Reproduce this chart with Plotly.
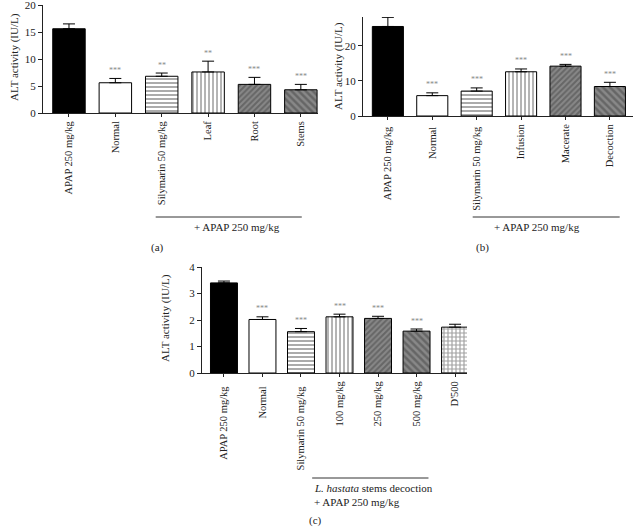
import plotly.graph_objects as go

# ---------------- data ----------------
cats_a = ["APAP 250 mg/kg", "Normal", "Silymarin 50 mg/kg", "Leaf", "Root", "Stems"]
vals_a = [15.6, 5.6, 6.8, 7.6, 5.3, 4.3]
errs_a = [0.9, 0.8, 0.6, 2.0, 1.3, 1.0]
sig_a = ["", "***", "**", "**", "***", "***"]

cats_b = ["APAP 250 mg/kg ", "Normal ", "Silymarin 50 mg/kg ", "Infusion", "Macerate", "Decoction"]
vals_b = [25.5, 5.8, 7.1, 12.6, 14.2, 8.4]
errs_b = [2.6, 0.8, 0.9, 0.8, 0.5, 1.2]
sig_b = ["", "***", "***", "***", "***", "***"]

cats_c = ["APAP 250 mg/kg  ", "Normal  ", "Silymarin 50 mg/kg  ", "100 mg/kg", "250 mg/kg", "500 mg/kg", "D'500"]
vals_c = [3.4, 2.02, 1.56, 2.12, 2.06, 1.58, 1.73]
errs_c = [0.07, 0.10, 0.12, 0.10, 0.08, 0.08, 0.11]
sig_c = ["", "***", "***", "***", "***", "***", ""]

ytick_a = [0, 5, 10, 15, 20]
ytick_b = [0, 10, 20]
ytick_c = [0, 1, 2, 3, 4]

FONT = "Liberation Serif"
FS = 11
XFS = 10.5

# pattern styles per bar position
def styles(n):
    st = [
        dict(color="black", pattern=dict(shape="")),
        dict(color="white", pattern=dict(shape="")),
        dict(color="white", pattern=dict(shape="-", fgcolor="#222", bgcolor="white", size=4, solidity=0.45)),
        dict(color="white", pattern=dict(shape="|", fgcolor="#222", bgcolor="white", size=4, solidity=0.4)),
        dict(color="#888", pattern=dict(shape="/", fgcolor="#222", bgcolor="#bbb", size=4, solidity=0.5)),
        dict(color="#888", pattern=dict(shape="\\", fgcolor="#222", bgcolor="#bbb", size=5, solidity=0.5)),
        dict(color="white", pattern=dict(shape="+", fgcolor="#222", bgcolor="white", size=4, solidity=0.5)),
    ]
    return st[:n]

fig = go.Figure()

panels = [
    (cats_a, vals_a, errs_a, sig_a, "x", "y"),
    (cats_b, vals_b, errs_b, sig_b, "x2", "y2"),
    (cats_c, vals_c, errs_c, sig_c, "x3", "y3"),
]

for cats, vals, errs, sig, xa, ya in panels:
    st = styles(len(cats))
    fig.add_trace(go.Bar(
        x=cats, y=vals, xaxis=xa, yaxis=ya, width=0.7,
        marker=dict(
            color=[s["color"] for s in st],
            line=dict(color="black", width=1),
            pattern=dict(
                shape=[s["pattern"]["shape"] for s in st],
                fgcolor=[s["pattern"].get("fgcolor", "black") for s in st],
                bgcolor=[s["pattern"].get("bgcolor", s["color"]) for s in st],
                size=[s["pattern"].get("size", 4) for s in st],
                solidity=[s["pattern"].get("solidity", 0.3) for s in st],
                fillmode="overlay",
            ),
        ),
        error_y=dict(type="data", array=errs, arrayminus=[0] * len(errs), symmetric=False,
                     color="black", thickness=1, width=6),
        showlegend=False,
        cliponaxis=False,
        hoverinfo="skip",
    ))
    for c, v, e, s in zip(cats, vals, errs, sig):
        if s:
            fig.add_annotation(x=c, y=v + e, xref=xa, yref=ya, text=s, showarrow=False,
                               yshift=8, font=dict(size=8, color="#888", family=FONT))

axis_common = dict(showline=True, linecolor="#222", linewidth=1, ticks="outside",
                   tickcolor="#222", showgrid=False, zeroline=False, automargin=False,
                   ticklabeloverflow="allow")
yfont = dict(tickfont=dict(family=FONT, size=FS, color="#222"))
xfont = dict(tickfont=dict(family=FONT, size=XFS, color="#222"))

W, H = 635, 528
def px2x(p): return p / W
def px2y(p): return 1 - p / H

fig.update_layout(
    width=W, height=H, margin=dict(l=0, r=0, t=0, b=0, autoexpand=False),
    plot_bgcolor="white", paper_bgcolor="white",
    font=dict(family=FONT, size=FS, color="#222"),
    xaxis=dict(domain=[px2x(43), px2x(318)], anchor="y", type="category", range=[-0.56, 5.37],
               tickangle=-90, ticklen=3, **axis_common, **xfont),
    yaxis=dict(domain=[px2y(113), px2y(5)], anchor="x", range=[0, 20], tickvals=ytick_a, ticklen=4,
               **axis_common, **yfont),
    xaxis2=dict(domain=[px2x(363), px2x(633)], anchor="y2", type="category", range=[-0.56, 5.52],
                tickangle=-90, ticklen=3, **axis_common, **xfont),
    yaxis2=dict(domain=[px2y(116), px2y(17)], anchor="x2", range=[0, 28.2], tickvals=ytick_b, ticklen=4,
                **axis_common, **yfont),
    xaxis3=dict(domain=[px2x(202), px2x(467)], anchor="y3", type="category", range=[-0.57, 6.31],
                tickangle=-90, ticklen=3, **axis_common, **xfont),
    yaxis3=dict(domain=[px2y(373), px2y(267)], anchor="x3", range=[0, 4], tickvals=ytick_c, ticklen=4,
                **axis_common, **yfont),
)

def ann(text, xp, yp, xanchor="center", angle=0):
    fig.add_annotation(x=px2x(xp), y=px2y(yp), xref="paper", yref="paper", text=text,
                       xanchor=xanchor, yanchor="middle", textangle=angle, showarrow=False,
                       font=dict(family=FONT, size=FS, color="#222"))

# y-axis titles
for xp, yp in [(15, 57), (338, 66), (165, 318)]:
    ann("ALT activity (IU/L)", xp, yp, angle=-90)

# group brackets
line = dict(color="#333", width=1)
fig.add_shape(type="line", xref="x", yref="paper", x0=1.87, x1=5.02, y0=px2y(217), y1=px2y(217), line=line)
fig.add_shape(type="line", xref="x2", yref="paper", x0=1.91, x1=5.22, y0=px2y(217), y1=px2y(217), line=line)
fig.add_shape(type="line", xref="x3", yref="paper", x0=2.29, x1=5.31, y0=px2y(478), y1=px2y(478), line=line)

ann("+ APAP 250 mg/kg", 237, 227)
ann("+ APAP 250 mg/kg", 537, 227)
ann("<i>L. hastata</i> stems decoction", 312, 488, xanchor="left")
ann("+ APAP 250 mg/kg", 312, 502, xanchor="left")
ann("(a)", 157, 247)
ann("(b)", 482, 247)
ann("(c)", 315, 520)

fig.write_html("out.html", config={"displayModeBar": False},
               post_script="document.body.style.margin='0px';document.body.style.overflow='hidden';")
